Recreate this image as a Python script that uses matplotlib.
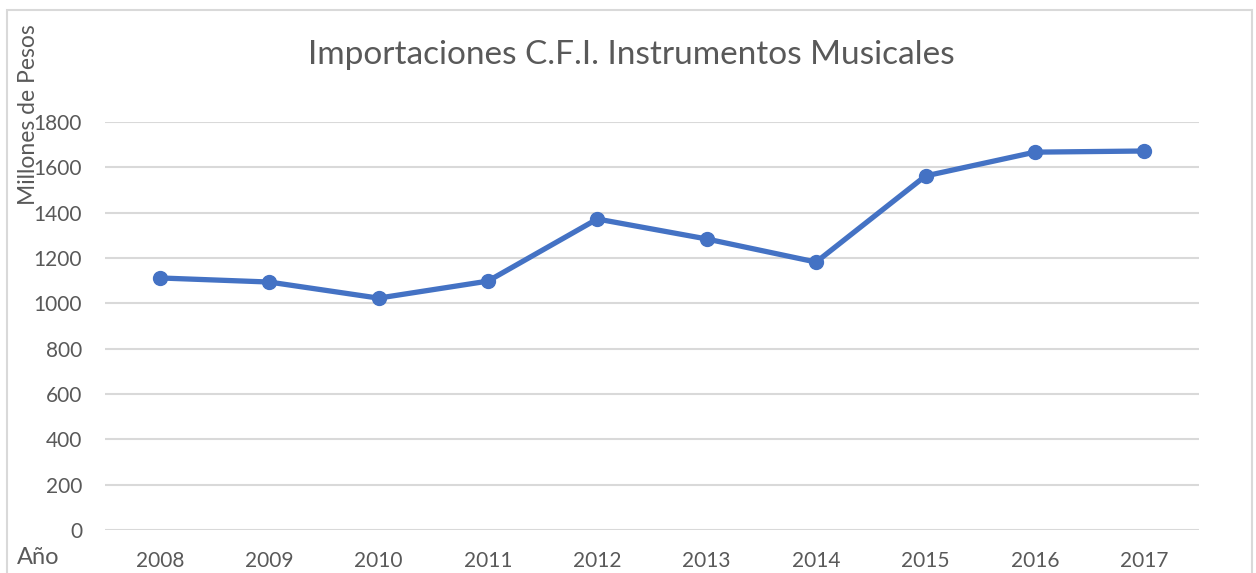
import matplotlib.pyplot as plt
from matplotlib.patches import Rectangle

years = ['2008', '2009', '2010', '2011', '2012', '2013', '2014', '2015', '2016', '2017']
importaciones = [1112, 1094, 1023, 1098, 1372, 1284, 1182, 1562, 1667, 1672]
yticks = [0, 200, 400, 600, 800, 1000, 1200, 1400, 1600, 1800]

plt.rcParams['font.family'] = ['Lato', 'DejaVu Sans']
gray = '#595959'

fig = plt.figure(figsize=(12.56, 5.73), dpi=100)
fig.patches.append(Rectangle((7 / 1256, -0.05), 1245 / 1256, 1.05 - 10 / 573,
                             transform=fig.transFigure, fill=False,
                             edgecolor='#D9D9D9', linewidth=1.5))

ax = fig.add_axes([105 / 1256, 43 / 573, 1094 / 1256, 408 / 573])
x = list(range(len(years)))
ax.plot(x, importaciones, color='#4472C4', linewidth=3.8, marker='o',
        markersize=10, solid_capstyle='round', zorder=3)

ax.set_xlim(-0.5, len(years) - 0.5)
ax.set_ylim(0, 1800)
ax.set_yticks(yticks)
ax.set_xticks(x)
ax.set_xticklabels(years)
ax.grid(axis='y', color='#D9D9D9', linewidth=1.5)
ax.set_axisbelow(True)
for s in ax.spines.values():
    s.set_visible(False)
ax.tick_params(length=0, labelsize=15, colors=gray)
ax.tick_params(axis='x', pad=15)
ax.tick_params(axis='y', pad=16.5)

fig.text(631 / 1256, 1 - 55 / 573, 'Importaciones C.F.I. Instrumentos Musicales',
         ha='center', va='center', fontsize=24, color=gray)
fig.text(29 / 1256, 1 - 115 / 573, 'Millones de Pesos', rotation=90,
         ha='center', va='center', fontsize=16.5, color=gray)
fig.text(17 / 1256, 1 - 558 / 573, 'Año', ha='left', va='center',
         fontsize=17, color=gray)

fig.savefig('out.png', dpi=100)
